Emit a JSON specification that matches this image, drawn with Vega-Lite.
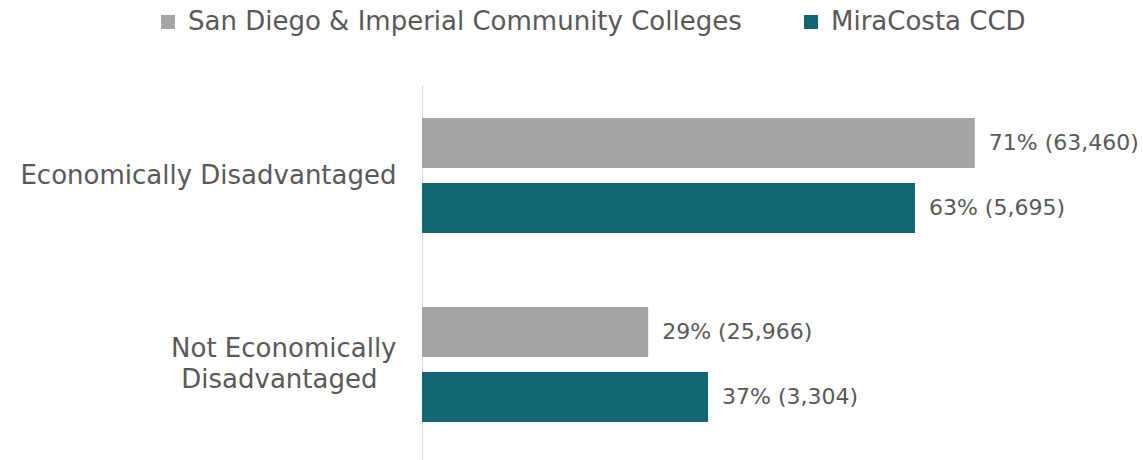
{
  "$schema": "https://vega.github.io/schema/vega-lite/v6.json",
  "width": 779,
  "height": 375,
  "autosize": {"type": "none"},
  "padding": {"left": 422, "top": 85, "right": 0, "bottom": 0},
  "background": "white",
  "config": {"view": {"stroke": null}, "font": "DejaVu Sans"},
  "data": {
    "values": [
      {"category": "Economically Disadvantaged", "group": "San Diego & Imperial Community Colleges", "share": 0.7096, "label": "71% (63,460)"},
      {"category": "Economically Disadvantaged", "group": "MiraCosta CCD", "share": 0.6328, "label": "63% (5,695)"},
      {"category": "Not Economically Disadvantaged", "group": "San Diego & Imperial Community Colleges", "share": 0.2904, "label": "29% (25,966)"},
      {"category": "Not Economically Disadvantaged", "group": "MiraCosta CCD", "share": 0.3672, "label": "37% (3,304)"}
    ]
  },
  "encoding": {
    "y": {
      "field": "category",
      "type": "nominal",
      "sort": ["Economically Disadvantaged", "Not Economically Disadvantaged"],
      "scale": {"paddingInner": 0.3915, "paddingOuter": 0.188, "align": 0.465},
      "axis": {
        "title": null,
        "ticks": false,
        "domain": true,
        "domainColor": "#d9d9d9",
        "domainWidth": 1,
        "labelFontSize": 26,
        "labelColor": "#595959",
        "labelPadding": 26,
        "labelLimit": 600,
        "labelLineHeight": 31,
        "labelOffset": {"condition": {"test": "datum.value == 'Not Economically Disadvantaged'", "value": -15}, "value": 0},
        "labelExpr": "datum.value == 'Not Economically Disadvantaged' ? ['Not Economically', 'Disadvantaged\u2800'] : datum.value"
      }
    },
    "yOffset": {
      "field": "group",
      "type": "nominal",
      "sort": ["San Diego & Imperial Community Colleges", "MiraCosta CCD"],
      "scale": {"paddingInner": 0.23, "paddingOuter": 0}
    },
    "x": {"field": "share", "type": "quantitative", "scale": {"domain": [0, 1]}, "axis": null}
  },
  "layer": [
    {
      "mark": {"type": "bar"},
      "encoding": {
        "color": {
          "field": "group",
          "type": "nominal",
          "sort": ["San Diego & Imperial Community Colleges", "MiraCosta CCD"],
          "scale": {"domain": ["San Diego & Imperial Community Colleges", "MiraCosta CCD"], "range": ["#A5A5A5", "#136673"]},
          "legend": {
            "title": null,
            "orient": "none",
            "direction": "horizontal",
            "legendX": -267,
            "legendY": -76,
            "symbolType": "square",
            "symbolSize": 196,
            "symbolStrokeWidth": 0,
            "labelFontSize": 26,
            "labelColor": "#595959",
            "labelOffset": 7,
            "labelLimit": 700,
            "columnPadding": 56
          }
        }
      }
    },
    {
      "mark": {"type": "text", "align": "left", "baseline": "middle", "dx": 14, "fontSize": 22, "color": "#595959"},
      "encoding": {"text": {"field": "label", "type": "nominal"}}
    }
  ]
}
